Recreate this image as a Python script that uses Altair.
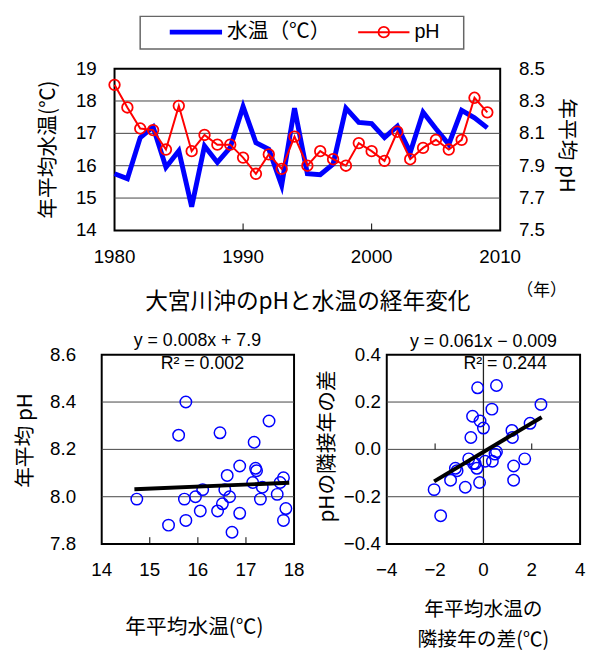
import altair as alt
import pandas as pd

# ---------------- data ----------------
years = list(range(1980, 2010))
temp = [15.75, 15.60, 16.87, 17.20, 15.95, 16.46, 14.73, 16.61, 16.10, 16.56,
        17.83, 16.71, 16.51, 15.39, 17.78, 15.75, 15.72, 16.05, 17.78, 17.34,
        17.30, 16.87, 17.22, 16.41, 17.65, 17.14, 16.66, 17.71, 17.48, 17.17]
ph = [8.40, 8.26, 8.13, 8.12, 8.00, 8.27, 7.99, 8.09, 8.03, 8.03,
      7.95, 7.85, 7.97, 7.88, 8.08, 7.90, 7.99, 7.94, 7.90, 8.04,
      7.99, 7.93, 8.11, 7.94, 8.01, 8.06, 8.00, 8.06, 8.32, 8.23]

# year-to-year differences
d_temp = [-0.24, 0.54, 2.38, 0.35, -0.45, -0.14, 0.00, 1.93, 1.18, 1.20,
          -0.52, 0.54, 0.48, 1.71, 0.37, -0.61, -0.41, -0.27, 0.07, -1.16,
          -1.09, -1.36, 1.25, 1.25, -0.16, -0.75, -2.04, -1.77, -0.34]
d_ph = [0.26, 0.27, 0.19, 0.17, 0.14, 0.12, 0.09, 0.11, 0.08, 0.05,
        0.05, -0.01, -0.02, -0.04, -0.05, -0.04, -0.06, -0.08, -0.05, -0.08,
        -0.09, -0.13, -0.07, -0.13, -0.14, -0.16, -0.17, -0.28, -0.06]

bl_trend_x = [14.68, 17.90]
bl_trend_y = [8.032, 8.059]
br_trend_x = [-2.04, 2.41]
br_trend_y = [-0.135, 0.136]

top_x_ticks = [1980, 1990, 2000, 2010]
temp_ticks = [14, 15, 16, 17, 18, 19]
ph_ticks = [7.5, 7.7, 7.9, 8.1, 8.3, 8.5]
bl_x_ticks = [14, 15, 16, 17, 18]
bl_y_ticks = [7.8, 8.0, 8.2, 8.4, 8.6]
br_x_ticks = [-4, -2, 0, 2, 4]
br_y_ticks = [-0.4, -0.2, 0.0, 0.2, 0.4]

# ---------------- layout (pixel positions of the three panels) ----------------
TOP = dict(x0=108, x1=499, y0=57, y1=221)
BL = dict(x0=95, x1=290, y0=347, y1=539)
BR = dict(x0=384, x1=580, y0=347, y1=539)

NUM_FONT = "Liberation Sans"
JP_FONT = "Noto Sans CJK JP"
NUM_SIZE = 19
JP_SIZE = 21


def S(domain, rng):
    return alt.Scale(domain=domain, range=rng, nice=False, zero=False)


TX = S([1980, 2010], [TOP["x0"], TOP["x1"]])
TY = S([14, 19], [TOP["y1"], TOP["y0"]])
PY = S([7.5, 8.5], [TOP["y1"], TOP["y0"]])
LX = S([14, 18], [BL["x0"], BL["x1"]])
LY = S([7.8, 8.6], [BL["y1"], BL["y0"]])
RX = S([-4, 4], [BR["x0"], BR["x1"]])
RY = S([-0.4, 0.4], [BR["y1"], BR["y0"]])

one = alt.Data(values=[{"a": 1}])


def df(**cols):
    return pd.DataFrame(cols)


def Xq(field, scale):
    return alt.X(f"{field}:Q", scale=scale, axis=None)


def Yq(field, scale):
    return alt.Y(f"{field}:Q", scale=scale, axis=None)


layers = []

# ---------- frames ----------
for P in (TOP, BL, BR):
    layers.append(
        alt.Chart(one).mark_rect(fillOpacity=0, stroke="black", strokeWidth=2).encode(
            x=alt.value(P["x0"]), x2=alt.value(P["x1"]),
            y=alt.value(P["y0"]), y2=alt.value(P["y1"]))
    )

# ---------- grid lines ----------
grid_color = "#444444"
layers.append(
    alt.Chart(df(v=temp_ticks[1:-1])).mark_rule(color=grid_color, strokeWidth=1).encode(
        y=Yq("v", TY), x=alt.value(TOP["x0"]), x2=alt.value(TOP["x1"]))
)
layers.append(
    alt.Chart(df(v=bl_y_ticks[1:-1])).mark_rule(color=grid_color, strokeWidth=1).encode(
        y=Yq("v", LY), x=alt.value(BL["x0"]), x2=alt.value(BL["x1"]))
)
layers.append(
    alt.Chart(df(v=br_y_ticks[1:-1])).mark_rule(color=grid_color, strokeWidth=1).encode(
        y=Yq("v", RY), x=alt.value(BR["x0"]), x2=alt.value(BR["x1"]))
)
# vertical axis line at x = 0 in the right panel
layers.append(
    alt.Chart(df(v=[0])).mark_rule(color="#222222", strokeWidth=1.3).encode(
        x=Xq("v", RX), y=alt.value(BR["y0"]), y2=alt.value(BR["y1"]))
)

# ---------- inner ticks ----------
layers.append(
    alt.Chart(df(v=top_x_ticks[1:-1])).mark_rule(color="black", strokeWidth=1).encode(
        x=Xq("v", TX), y=alt.value(TOP["y1"] - 7), y2=alt.value(TOP["y1"]))
)
layers.append(
    alt.Chart(df(v=bl_x_ticks[1:-1])).mark_rule(color="black", strokeWidth=1).encode(
        x=Xq("v", LX), y=alt.value(BL["y1"] - 7), y2=alt.value(BL["y1"]))
)
br_mid = (BR["y0"] + BR["y1"]) / 2
layers.append(
    alt.Chart(df(v=[-2, 2])).mark_rule(color="black", strokeWidth=1).encode(
        x=Xq("v", RX), y=alt.value(br_mid - 6), y2=alt.value(br_mid))
)


# ---------- tick labels ----------
def labels(vals, fmt, x=None, y=None, align="center"):
    return alt.Chart(df(v=vals)).mark_text(
        font=NUM_FONT, fontSize=NUM_SIZE, align=align, baseline="middle",
        color="black").encode(
        text=alt.Text("v:Q", format=fmt), x=x, y=y)


layers.append(labels(top_x_ticks, "d", x=Xq("v", TX), y=alt.value(TOP["y1"] + 27)))
layers.append(labels(temp_ticks, "d", x=alt.value(TOP["x0"] - 18), y=Yq("v", TY), align="right"))
layers.append(labels(ph_ticks, ".1f", x=alt.value(TOP["x1"] + 19), y=Yq("v", PY), align="left"))

layers.append(labels(bl_x_ticks, "d", x=Xq("v", LX), y=alt.value(BL["y1"] + 26)))
layers.append(labels(bl_y_ticks, ".1f", x=alt.value(BL["x0"] - 26), y=Yq("v", LY), align="right"))

layers.append(labels(br_x_ticks, "d", x=Xq("v", RX), y=alt.value(BR["y1"] + 26)))
layers.append(labels(br_y_ticks, ".1f", x=alt.value(BR["x0"] - 6), y=Yq("v", RY), align="right"))

# ---------- data marks ----------
top_df = df(year=years, temp=temp, ph=ph)
layers.append(
    alt.Chart(top_df).mark_line(color="#0000FF", strokeWidth=5, strokeJoin="miter").encode(
        x=Xq("year", TX), y=Yq("temp", TY))
)
layers.append(
    alt.Chart(top_df).mark_line(color="#FF0000", strokeWidth=2).encode(
        x=Xq("year", TX), y=Yq("ph", PY))
)
layers.append(
    alt.Chart(top_df).mark_point(shape="circle", filled=False, color="#FF0000",
                                 strokeWidth=1.8, size=115, opacity=1).encode(
        x=Xq("year", TX), y=Yq("ph", PY))
)

layers.append(
    alt.Chart(top_df).mark_point(shape="circle", filled=False, color="#0000FF",
                                 strokeWidth=1.5, size=135, opacity=1).encode(
        x=Xq("temp", LX), y=Yq("ph", LY))
)
layers.append(
    alt.Chart(df(x=bl_trend_x, y=bl_trend_y)).mark_line(color="black", strokeWidth=4).encode(
        x=Xq("x", LX), y=Yq("y", LY))
)

diff_df = df(dt=d_temp, dp=d_ph)
layers.append(
    alt.Chart(diff_df).mark_point(shape="circle", filled=False, color="#0000FF",
                                  strokeWidth=1.5, size=135, opacity=1).encode(
        x=Xq("dt", RX), y=Yq("dp", RY))
)
layers.append(
    alt.Chart(df(x=br_trend_x, y=br_trend_y)).mark_line(color="black", strokeWidth=4).encode(
        x=Xq("x", RX), y=Yq("y", RY))
)


# ---------- titles / free text ----------
def txt(s, x, y, font=JP_FONT, size=JP_SIZE, angle=0, align="center"):
    return alt.Chart(one).mark_text(
        font=font, fontSize=size, angle=angle, align=align, baseline="middle",
        color="black").encode(x=alt.value(x), y=alt.value(y), text=alt.value(s))


layers.append(txt("年平均水温(℃)", 42, 139, angle=270))
layers.append(txt("年平均 pH", 566, 135, angle=90))
layers.append(txt("（年）", 541, 283, size=17))
layers.append(txt("大宮川沖のpHと水温の経年変化", 304, 294, size=23))

layers.append(txt("y = 0.008x + 7.9", 192, 333, font=NUM_FONT, size=18))
layers.append(txt("R² = 0.002", 197, 357, font=NUM_FONT, size=18))
layers.append(txt("年平均 pH", 18, 434, angle=270))
layers.append(txt("年平均水温(℃)", 189, 624))

layers.append(txt("y = 0.061x − 0.009", 482, 334, font=NUM_FONT, size=18))
layers.append(txt("R² = 0.244", 504, 357, font=NUM_FONT, size=18))
layers.append(txt("pHの隣接年の差", 324, 440, angle=270))
layers.append(txt("年平均水温の", 482, 606, size=20))
layers.append(txt("隣接年の差(℃)", 482, 636, size=20))

# ---------- legend ----------
layers.append(
    alt.Chart(one).mark_rect(fill="white", stroke="#666666", strokeWidth=1.5).encode(
        x=alt.value(134), x2=alt.value(462), y=alt.value(4), y2=alt.value(37))
)
layers.append(
    alt.Chart(one).mark_rule(color="#0000FF", strokeWidth=5).encode(
        x=alt.value(164), x2=alt.value(217), y=alt.value(20))
)
layers.append(txt("水温（℃）", 222, 20, align="left"))
layers.append(
    alt.Chart(one).mark_rule(color="#FF0000", strokeWidth=2).encode(
        x=alt.value(355), x2=alt.value(407), y=alt.value(20))
)
layers.append(
    alt.Chart(one).mark_point(shape="circle", filled=False, color="#FF0000",
                              strokeWidth=1.8, size=115, opacity=1).encode(
        x=alt.value(381), y=alt.value(20))
)
layers.append(txt("pH", 412, 20, font=NUM_FONT, size=20, align="left"))

chart = alt.layer(*layers).resolve_scale(
    x="independent", y="independent"
).properties(
    width=587, height=649, padding=0,
    autosize=alt.AutoSizeParams(type="none"),
    background="white",
).configure_view(stroke=None)

chart.save("out.html", embed_options={"renderer": "svg", "actions": False})
